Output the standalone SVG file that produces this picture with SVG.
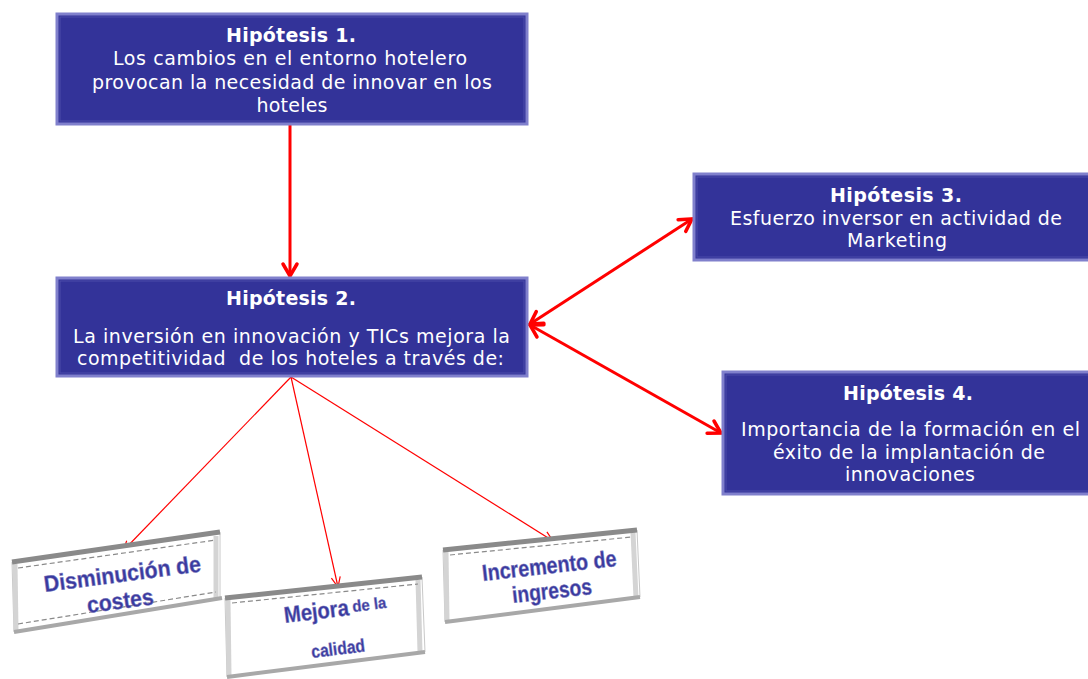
<svg xmlns="http://www.w3.org/2000/svg" width="1088" height="679" viewBox="0 0 1088 679">
<style>
.box{fill:#333399;stroke:#8080cc;stroke-width:3}
.inner{fill:none;stroke:#4d4daa;stroke-width:1}
.t{font-family:"DejaVu Sans",Verdana,sans-serif;font-size:19px;fill:#ffffff;text-anchor:middle}
.h{font-weight:bold;font-size:19px}
.thick{stroke:#ff0000;stroke-width:3;fill:none}
.thin{stroke:#ff0000;stroke-width:1.2;fill:none}
.frame{fill:#ffffff;stroke:#c8c8c8;stroke-width:1}
.bt{stroke:#8a8a8a;stroke-width:5}
.bs{stroke:#d4d4d4;stroke-width:5}
.bb{stroke:#a8a8a8;stroke-width:4}
.dash{stroke:#8a8a8a;stroke-width:1.2;stroke-dasharray:5 3;fill:none}
.lbl{font-family:"Liberation Sans",Arial,sans-serif;font-weight:bold;fill:#3a3a9e;stroke:#7c7cc0;stroke-width:0.5}
</style>
<defs>
<marker id="ah" markerUnits="userSpaceOnUse" viewBox="-16 -10 20 20" refX="0" refY="0" markerWidth="20" markerHeight="20" orient="auto-start-reverse">
<path d="M-12,-7 L0,0 L-12,7" fill="none" stroke="#ff0000" stroke-width="3.5" stroke-linecap="round" stroke-linejoin="miter"/>
</marker>
<marker id="as" markerUnits="userSpaceOnUse" viewBox="-12 -6 14 12" refX="0" refY="0" markerWidth="14" markerHeight="12" orient="auto">
<path d="M-10,-4.5 L0,0 L-10,4.5" fill="none" stroke="#ff0000" stroke-width="1.2"/>
</marker>
</defs>

<g id="connectors">
<line class="thick" x1="290" y1="125" x2="290" y2="276" marker-end="url(#ah)"/>
<line class="thick" x1="530" y1="324" x2="692" y2="219" marker-start="url(#ah)" marker-end="url(#ah)"/>
<line class="thick" x1="530" y1="325" x2="721" y2="433" marker-start="url(#ah)" marker-end="url(#ah)"/>
<line class="thin" x1="291" y1="377" x2="123" y2="551" marker-end="url(#as)"/>
<line class="thin" x1="291" y1="377" x2="338" y2="587" marker-end="url(#as)"/>
<line class="thin" x1="291" y1="377" x2="553" y2="541" marker-end="url(#as)"/>
</g>

<g id="h1">
<rect class="box" x="57" y="14" width="470" height="110"/>
<rect class="inner" x="60" y="17" width="464" height="104"/>
<text class="t h" x="291" y="42" textLength="130">Hipótesis 1.</text>
<text class="t" x="290" y="65" textLength="354">Los cambios en el entorno hotelero</text>
<text class="t" x="292" y="89" textLength="400">provocan la necesidad de innovar en los</text>
<text class="t" x="292" y="112" textLength="71">hoteles</text>
</g>

<g id="h2">
<rect class="box" x="57" y="278" width="470" height="98"/>
<rect class="inner" x="60" y="281" width="464" height="92"/>
<text class="t h" x="291" y="305" textLength="130">Hipótesis 2.</text>
<text class="t" x="291.5" y="343" textLength="437">La inversión en innovación y TICs mejora la</text>
<text class="t" x="290.5" y="365" textLength="427">competitividad&#160; de los hoteles a través de:</text>
</g>

<g id="h3">
<rect class="box" x="694" y="174" width="400" height="86"/>
<rect class="inner" x="697" y="177" width="394" height="80"/>
<text class="t h" x="896" y="202" textLength="132">Hipótesis 3.</text>
<text class="t" x="896" y="225" textLength="332">Esfuerzo inversor en actividad de</text>
<text class="t" x="897" y="247" textLength="100">Marketing</text>
</g>

<g id="h4">
<rect class="box" x="723" y="372" width="372" height="122"/>
<rect class="inner" x="726" y="375" width="366" height="116"/>
<text class="t h" x="908" y="400" textLength="130">Hipótesis 4.</text>
<text class="t" x="910.5" y="436" textLength="339">Importancia de la formación en el</text>
<text class="t" x="909" y="459" textLength="272">éxito de la implantación de</text>
<text class="t" x="910" y="481" textLength="130">innovaciones</text>
</g>

<g id="costes">
<polygon class="frame" points="12,562 220,532 220,598 14,632"/>
<line class="bs" x1="15" y1="564" x2="16" y2="630"/>
<line class="bs" x1="216" y1="536" x2="216" y2="598"/>
<line class="bt" x1="12" y1="562" x2="220" y2="532"/>
<line class="bb" x1="14" y1="632" x2="222" y2="598"/>
<line class="dash" x1="18" y1="568" x2="216" y2="540"/>
<line class="dash" x1="18" y1="624" x2="216" y2="592"/>
<text class="lbl" font-size="23" lengthAdjust="spacingAndGlyphs" transform="translate(45,592) rotate(-7.5)" textLength="158">Disminución de</text>
<text class="lbl" font-size="23" lengthAdjust="spacingAndGlyphs" transform="translate(88,613) rotate(-7.5)" textLength="67">costes</text>
</g>

<g id="calidad">
<polygon class="frame" points="225,598 422,577 425,652 227,677"/>
<line class="bs" x1="228" y1="600" x2="229" y2="675"/>
<line class="bs" x1="418" y1="580" x2="420" y2="652"/>
<line class="bt" x1="225" y1="598" x2="422" y2="577"/>
<line class="bb" x1="227" y1="677" x2="425" y2="652"/>
<line class="dash" x1="232" y1="603" x2="418" y2="584"/>
<text class="lbl" font-size="23" lengthAdjust="spacingAndGlyphs" transform="translate(285,623) rotate(-7)" textLength="65">Mejora</text>
<text class="lbl" font-size="16" lengthAdjust="spacingAndGlyphs" transform="translate(353,612) rotate(-7)" textLength="34">de la</text>
<text class="lbl" font-size="18" lengthAdjust="spacingAndGlyphs" transform="translate(312,658) rotate(-7)" textLength="54">calidad</text>
</g>

<g id="ingresos">
<polygon class="frame" points="443,550 637,530 640,597 445,622"/>
<line class="bs" x1="446" y1="552" x2="447" y2="620"/>
<line class="bs" x1="633" y1="532" x2="636" y2="598"/>
<line class="bt" x1="443" y1="550" x2="637" y2="530"/>
<line class="bb" x1="445" y1="622" x2="640" y2="597"/>
<line class="dash" x1="450" y1="555" x2="632" y2="537"/>
<text class="lbl" font-size="23" lengthAdjust="spacingAndGlyphs" transform="translate(483,581) rotate(-6.4)" textLength="135">Incremento de</text>
<text class="lbl" font-size="23" lengthAdjust="spacingAndGlyphs" transform="translate(513,603) rotate(-6.4)" textLength="80">ingresos</text>
</g>
</svg>
